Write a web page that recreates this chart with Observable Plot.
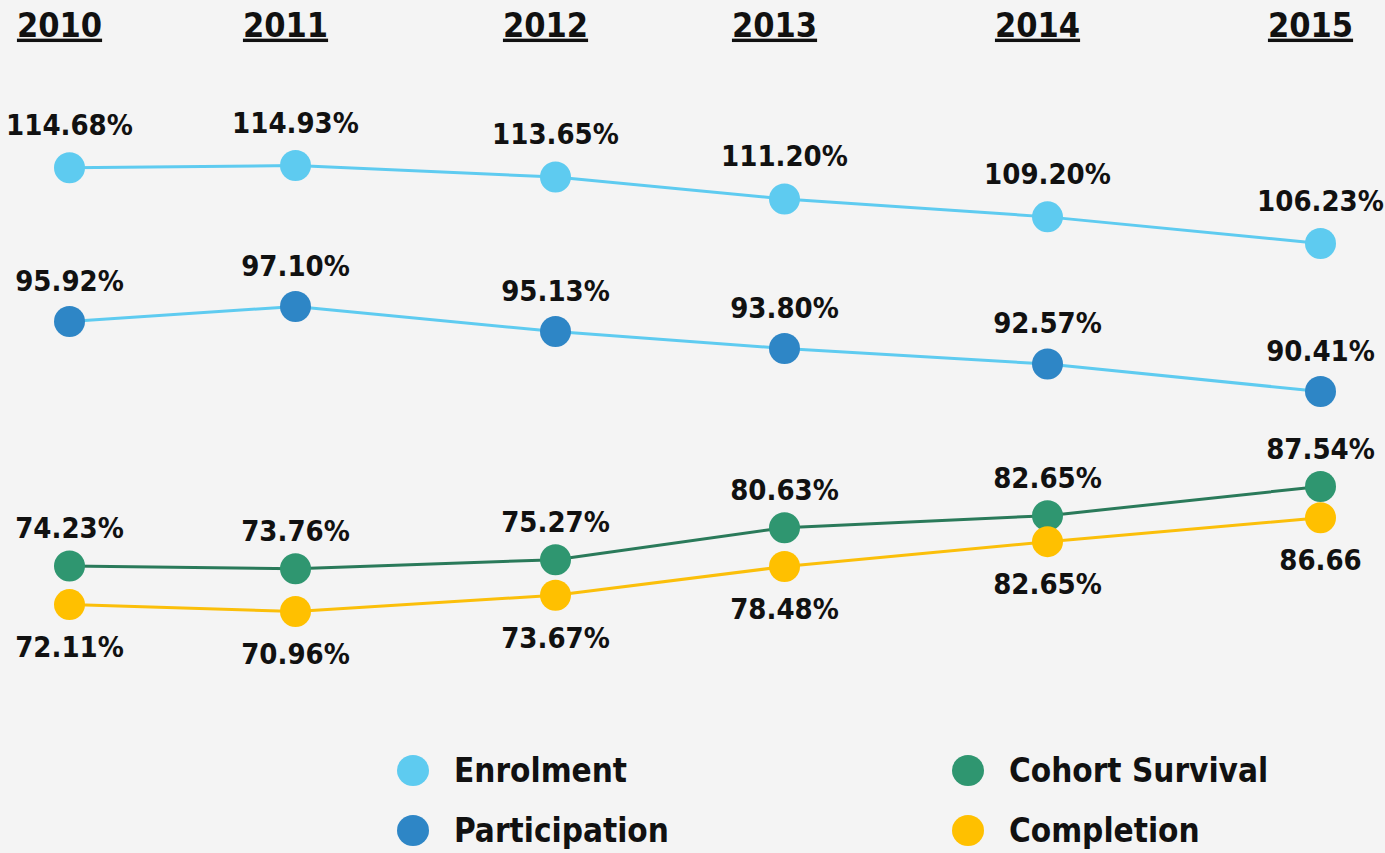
<!DOCTYPE html>
<html>
<head>
<meta charset="utf-8">
<script src="https://cdn.jsdelivr.net/npm/d3@7"></script>
<script src="https://cdn.jsdelivr.net/npm/@observablehq/plot@0.6"></script>
<style>
  html, body { margin: 0; padding: 0; background: #f4f4f4; overflow: hidden; }
  body { width: 1385px; height: 853px; font-family: "DejaVu Sans Condensed", "DejaVu Sans", sans-serif; }
  #chart svg { display: block; background: #f4f4f4; }
  .legend { display: grid; grid-template-columns: 555px auto; margin-left: 397px; row-gap: 0; }
  .item { display: flex; align-items: center; height: 60px; font-weight: bold; font-size: 33px; color: #111; }
  .sw { width: 32px; height: 31px; border-radius: 50%; margin-right: 25px; flex: none; }
</style>
</head>
<body>
<div id="chart"></div>
<div class="legend" id="legend"></div>
<script>
const years = [2010, 2011, 2012, 2013, 2014, 2015];
const enrolment = [114.68, 114.93, 113.65, 111.20, 109.20, 106.23];
const participation = [95.92, 97.10, 95.13, 93.80, 92.57, 90.41];
const cohortSurvival = [74.23, 73.76, 75.27, 80.63, 82.65, 87.54];
const completion = [72.11, 70.96, 73.67, 78.48, 82.65, 86.66];
const completionLabels = ["72.11%", "70.96%", "73.67%", "78.48%", "82.65%", "86.66"];
const seriesNames = ["Enrolment", "Participation", "Cohort Survival", "Completion"];
const dotColors = ["#5ecbf0", "#2e86c6", "#2f9670", "#ffc000"];
const lineColors = ["#5ecbf0", "#5ecbf0", "#2a7a5a", "#fbbf0a"];
const legendOrder = ["Enrolment", "Cohort Survival", "Participation", "Completion"];

const seriesValues = [enrolment, participation, cohortSurvival, completion];
const pct = d3.format(".2f");
const rows = [];
seriesNames.forEach((name, i) => {
  years.forEach((yr, j) => {
    rows.push({
      series: name,
      year: yr,
      value: seriesValues[i][j],
      label: name === "Completion" ? completionLabels[j] : pct(seriesValues[i][j]) + "%"
    });
  });
});

// per-series style: offsets keep the hand-drawn separation of the original infographic
const styleOf = {
  "Enrolment":       {dy: 0,   labelDy: -42},
  "Participation":   {dy: 0,   labelDy: -40},
  "Cohort Survival": {dy: -13, labelDy: -50},
  "Completion":      {dy: 13,  labelDy: 56}
};

const marks = [];
seriesNames.forEach((name, i) => {
  const data = rows.filter(d => d.series === name);
  const s = styleOf[name];
  marks.push(Plot.line(data, {x: "year", y: "value", stroke: lineColors[i], strokeWidth: 3, dy: s.dy}));
});
seriesNames.forEach((name, i) => {
  const data = rows.filter(d => d.series === name);
  const s = styleOf[name];
  marks.push(Plot.dot(data, {x: "year", y: "value", r: 15.5, fill: dotColors[i], stroke: "none", dy: s.dy}));
  marks.push(Plot.text(data, {x: "year", y: "value", text: "label", dy: s.labelDy, fontSize: 29, fontWeight: "bold", fill: "#111"}));
});
marks.push(Plot.text(years, {x: d => d, text: d => String(d), frameAnchor: "top", dy: 12, dx: -10, fontSize: 34, fontWeight: "bold", fill: "#111"}));

const chart = Plot.plot({
  width: 1385,
  height: 740,
  margin: 0,
  style: {fontFamily: '"DejaVu Sans Condensed", "DejaVu Sans", sans-serif', background: "#f4f4f4"},
  x: {type: "linear", domain: years, range: [69, 295, 555, 784, 1047, 1320], axis: null},
  y: {type: "linear", domain: [70, 88, 90.41, 97.1, 106.23, 114.93], range: [603.7, 496.2, 391, 306, 243, 165], axis: null},
  marks
});
d3.select(chart).selectAll("text")
  .filter(function() { return /^\d{4}$/.test(this.textContent.trim()); })
  .attr("text-decoration", "underline")
  .style("text-decoration", "underline");
document.getElementById("chart").appendChild(chart);

const legend = document.getElementById("legend");
legendOrder.forEach(name => {
  const i = seriesNames.indexOf(name);
  const item = document.createElement("div");
  item.className = "item";
  const sw = document.createElement("span");
  sw.className = "sw";
  sw.style.background = dotColors[i];
  item.appendChild(sw);
  item.appendChild(document.createTextNode(name));
  legend.appendChild(item);
});
</script>
</body>
</html>
